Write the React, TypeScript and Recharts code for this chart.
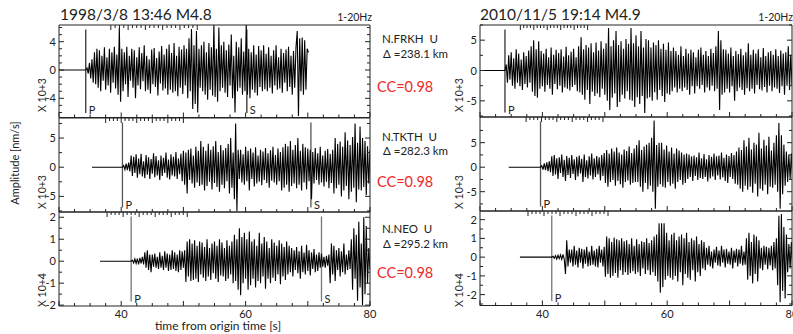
import React from 'react';
import { LineChart, Line, XAxis, YAxis, ReferenceLine } from 'recharts';

const STEP = 0.2;

const xTicks = [30, 32.5, 35, 37.5, 40, 42.5, 45, 47.5, 50, 52.5, 55, 57.5, 60, 62.5, 65, 67.5, 70, 72.5, 75, 77.5, 80];
const xMajor = [30, 40, 50, 60, 70, 80];
const xLabels = [40, 60, 80];

// 1998/3/8 event, x10^3 / x10^4 nm/s
const frkh1998 = [
  0.3, -0.5, 1, -1.2, 1.5, -1.8, 2.5, -2,
  3, -2.5, 2.8, -3, 2, -1.5, 3.2, -2.8, 1.8, -2.2, 3, -3.2, 2.5, -1.8, 3.3, -2.6, 2.2, -3.5,
  6, -4.5, 3,
  -3, 2.5, -2, 3.3, -3.8, 2, -1.5, 3, -2.5, 2.8, -4, 1.8, -2.2, 3.2, -2.7, 2.4, -1.6, 3.5, -3, 2, -2.8, 1.5, -3.3, 2.9, -2, 3.1, -2.4, 1.7, -3.6, 2.6, -1.9, 3.4, -2.9, 2.2, -2.6, 3,
  -3.5, 3.6, -2.8, 2.4, -3.2, 3.8, -3, 2, -3.7, 3.3, -2.5, 2.9, -3.4, 3.5, -2.2, 3,
  -4, 4.5, -3, 5.8, -5.5, 3.5, -4.8, 5.5, -6, 3, -2.5,
  3.5, -3, 4, -3.5, 2.5, -4.2, 3.8, -2.8, 3.2, -3.6,
  6.5, -3.8, 3, -4.5, 6, -3,
  3.5, -2.5, 4, -3.2, 2.8, -3.8, 3.6, -2.2, 5, -4, 2,
  -6, 4, -3, 3.2, -2.5, 4.5, -3.5, 2.6, -3, 6.5,
  -3.5, 3, -4, 2.5, -2.8, 3.5, -3.2, 2.2, -3.6, 3.4, -2.4, 2.8, -3, 3.5, -2.7, 2.3,
  -3, 3.2, -2.5, 2, -3.3, 2.8, -2.2, 3.5, -2.8, 1.8, -2.6, 3, -3.2, 2.4, -1.8, 2.9, -3, 3.3, -2.4, 2, -3.5, 2.7,
  -2.5, 3.2, 5.5, -6.5, 4.5, -3, 4.6, -3.5, 4.2, -2.8, 3, 2.5,
];

const tkth1998 = [
  0.3, -0.4, 0.6, -0.5, 0.8, -0.7,
  2, -1.5, 1.8, -1, 2.2, -1.8, 1.5, -1.2, 2.3, -1.6, 1, -1.9, 2.1, -1.3, 1.7, -2, 1.4, -1.1, 2.4, -1.7, 1.9, -1.4, 1.2, -2.2, 2, -1.5, 1.6, -1, 2.5, -1.8, 1.3, -2.1, 2.2, -1.4, 1.8, -1.6, 2.6, -2, 1.5, -1.2, 2.3, -2.4, 2.8,
  -3, 2.5, -4.5, 3, -2.2, 3.2, -2.8, 2, -3.5, 3.5, -2.6, 2.8, -3.2,
  4.5, -3, 3.5, -4, 2.8, -3.2, 4, -2.5, 3, -3.8, 3.6, -2.7, 4.5, -3.4, 2.6, -4.2, 3.8, -3, 2.9, -3.6, 3.3, -2.4, 4, -4.5,
  5, -3.5, 2.5, -5.5, 7.5, -7.5, 3, -2,
  3, -2.6, 2.2, -3, 3.5, -2.4, 2.8, -4, 3.2, -2, 2.5, -3.3, 3.4, -2.8, 2, -2.5, 3, -3.1, 2.7, -2.2, 3.3, -2.7, 2.4, -3.5, 2.9, -2.3, 3.5, -2.6, 2.1, -3, 3.2, -2.4, 2.6, -4, 3.4,
  -3.5, 4, -3, 3.6, -4.2, 4.5, -3.2, 3, -2.8, 3.8, -3.6, 5, -3, 2.8, -4, 4, -2.6, 3.4, -3.8, 3.2, -2.4,
  3, -5.5, 2.6, -2.8, 3.3, -2.2, 2.4, -3, 3.5, -2.6, 2, -3.3, 2.8, -2.5, 3.1, -3.6, 2.3, -2.7, 3,
  -4.5, 5, -3.6, 4, -3, 4.4, -5, 3.5, -4, 6, -3.2, 4.6, -5.5, 3.8, -4.2, 5.2, -3.5, 7.5, -6, 4.2, -3.8, 7, -4, 5, -3.4, 4.5, -4.8, 3.6, -2.8, 3,
];

const neo1998 = [
  0.05, -0.08, 0.1, -0.1, 0.12, -0.15, 0.15, -0.1, 0.2, -0.15,
  0.4, -0.3, 0.5, -0.4, 0.3, -0.5,
  0.3, -0.25, 0.35, -0.3, 0.2, -0.35, 0.4, -0.3, 0.25, -0.4, 0.45, -0.3, 0.35, -0.45, 0.3, -0.4, 0.5, -0.35, 0.4, -0.45, 0.3, -0.5, 0.5, -0.4, 0.45, -0.3, 0.5,
  -0.95, 0.9, -0.7, 1, -0.9, 0.8, -0.85, 0.95,
  -0.8, 0.7, -0.95, 0.9, -0.6, 0.85, -0.75, 0.65, -0.9, 1, -0.7, 0.6, -0.85, 0.8, -0.55, 0.9, -0.8, 0.7, -0.95, 1, -0.65, 0.85, -0.7, 0.6, -0.9, 0.95, -0.8, 0.7, -0.6, 0.9,
  -1, 1.2, -0.9, 1, -1.3, 1.5, -1.55, 1.1, -1, 1.3, -0.8, 1, -1.3, 1.35,
  -1.1, 0.9, -0.8, 1, -1.2, 0.7, -0.9, 1.3, -1, 0.8, -0.7, 1.1, -1.25, 0.9, -0.8, 0.6, -1, 1, -0.75, 0.85, -0.9, 0.7, -0.6, 0.95, -1.05, 0.8, -0.7, 0.65, -0.85, 0.9, -0.6, 0.7,
  -0.5, 0.6, -0.7, 0.5, -0.4, 0.65, -0.55, 0.45, -0.8, 0.7, -0.5, 0.4, -0.6, 0.75, -0.45, 0.5, -0.65, 0.4, -0.35, 0.55, -0.5, 0.3, -0.45, 0.4, -0.3, 0.35, -0.25,
  0.2, -0.3, 0.25, -0.2, 0.3, -1, 0.8, -0.6, 0.7, -0.9, 0.5, -0.4, 0.6, -0.7, 0.45, -0.5, 0.8, -0.6, 0.3, -0.4, 0.5, -0.35,
  1, -1.3, 1.5, -0.8, 1.2, -1.8, 1.8, -1.2, 0.8, -2, 2, -1.5, 1.6, -1, 0.6, -0.4, 0.5,
];

// 2010/11/5 event
const frkh2010 = [
  1, -2, 2.5, -1.5, 3, -2.5, 2, -3, 3.5, -2, 2.8, -2.6, 1.8, -3.2, 3, -2.2, 2.4, -2.8, 3.3, -2,
  4, -3.5, 5, -4.2, 3.5, -4.5, 4.8, -3,
  3.2, -2.6, 2.8, -3.5, 3.6, -2.4, 2.2, -3, 3.8, -4, 2.6, -2.2, 3.4, -3.1, 2.9, -2.5, 3.5, -3.6, 2.3, -2.8, 3.9, -3, 2.5, -3.3, 3.1, -2.7, 3.6, -2.4, 2.2, -3.4,
  4, -3.6, 5.5, -4, 3.5, -4.8, 4.2, -3.2, 3.8, -5.5, 4.5, -3.5, 3, -4.2, 4.6, -3.8, 3.3, -4.4, 4.8, -3, 3.6,
  -4, 4.5, -5, 7, -6.5, 4, -4.5, 5, -3.8, 6.5, -6, 4.2, -5.2, 4.8, -4, 3.6, -4.6, 5.2, -3.4, 4.4, -4.8,
  7, -5, 4.5, -6, 5.8, -4.4, 4, -5.5, 6.5, -4.2, 3.8, -7, 5.2, -4.6,
  5, -4.4, 3.8, -5, 4.6, -3.6, 4.2, -4.8, 5, -3.2, 3.6, -4.2, 4.4, -5.2, 3.4, -3.8, 4.6, -4, 3.2,
  -3.4, 3.8, -2.8, 3.2, -3.6, 2.6, -3, 4, -3.4, 2.4, -2.8, 3.6, -3.2, 2.8, -4, 3.4, -2.6, 3, -3.8, 2.2, -2.6, 3.4, -3, 3.8, -2.4, 2.6, -3.6, 3.2, -2.8, 2.4, -3.3, 3.6, -2.5, 2.9, -3.4,
  4, -3, 6.5, -6.5, 5, -4, 3.5, -3.6,
  3.4, -3, 2.8, -3.6, 3.8, -2.6, 2.4, -5, 3.2, -3.4, 2.7, -2.8, 3.6, -3.2, 2.5, -4, 3, -2.9, 4.5, -3.4, 2.6, -3, 3.4, -3.8, 2.8, -2.4, 3.5, -3.1, 2.2, -3.3, 3.7, -2.7, 2.4, -3.6, 3, -2.5, 3.2, -3.4, 2.6, -2.8, 3.5, -3, 2.4, -3.7, 3.3, -2.6, 2.8, -4, 3, -2.5, 4, -3.2, 2.6, -2.4, 2,
];

const tkth2010 = [
  0.3, -0.5, 0.8, -0.6, 1, -0.8, 1.2, -1,
  2.2, -1.8, 2.5, -1.5, 1.8, -2.4, 2, -1.2, 2.6, -2, 1.5, -2.8, 2.3, -1.6, 1.9, -2.2, 2.5, -1.4, 1.6, -2.6, 2.1, -1.9, 2.4, -1.3, 1.7, -3, 2.6, -2, 1.4, -2.3, 2.2, -1.7, 2.8, -2.5, 1.8, -2, 2.3, -1.5, 2, -2.7, 2.5, -1.8, 2.9,
  -3.2, 3.5, -4, 2.8, -3, 3.8, -2.6, 3.2, -3.8, 4, -2.8, 3, -3.5, 2.6, -4.2, 3.6, -3, 3.3, -2.7, 4.2, -3.6, 2.9, -3.2, 3.8, -3, 4.5,
  -3, 5.5, -4, 3.5, -5, 4.2, -3.2, 4.6, -4.5, 5, -3.8, 6, -5, 9.5, -8.5, 4.5, -4, 5, -3.5,
  5, -4, 3.6, -4.2, 4.4, -3, 3.2, -3.8, 4, -3.4, 2.8, -4.4, 3.8, -3, 3.4, -2.6, 3, -3.6, 2.6, -3.2, 2.8,
  -2.4, 2.6, -2, 2.2, -2.8, 2.4, -1.8, 2, -2.6, 3, -2.2, 1.8, -2.4, 2.7, -2, 1.6, -2.9, 2.5, -2.3, 2.1, -1.9, 2.8, -2.6, 2.2, -1.7, 2.4, -2.5, 3, -2.1, 1.9, -2.8, 2.6, -3.2, 2.3, -2, 2.9, -2.4, 2.5, -3.4, 3.2,
  -3.6, 4, -4.4, 3.5, -5, 5.5, -3.8, 4.2, -4.6, 6, -4, 3.6, -5.2, 5, -3.4, 4.6, -6, 7, -4.4, 3.8, -4.8, 5.6, -3.6, 4.4, -5.5, 6.2, -4, 3.4, -4.2, 5, -3.6, 6.5, -5, 9, -8.5, 6.5, -5.5, 4.6, -3.8, 3.2, -3, 2.6, -2.4, 2.8, -2,
];

const neo2010 = [
  0.05, -0.06, 0.08, -0.1, 0.1, -0.08, 0.12, -0.12, 0.15, -0.1,
  -0.9, 0.9, -0.5, 0.4, -0.3,
  0.4, -0.5, 0.6, -0.4, 0.35, -0.55, 0.5, -0.3, 0.45, -0.6, 0.4, -0.35, 0.55, -0.5, 0.3, -0.45, 0.6, -0.4, 0.35, -0.5, 0.45, -0.55, 0.6, -0.3, 0.4, -0.5, 0.55,
  -1.05, 1.1, -0.9, 1, -1.1, 0.8, -1, 1.05, -0.85, 0.95, -1.1, 0.9, -0.7, 1, -0.95, 0.85,
  -0.8, 0.9, -0.95, 0.7, -0.85, 1, -0.75, 0.6, -0.9, 0.95, -0.8, 0.7, -1, 0.85, -0.6, 0.8, -0.9, 1, -0.7, 0.75, -0.95, 0.9, -0.8, 1.1,
  -1, 1.2, -1.3, 1.8, -1.9, 1.8, -1.6, 1.8, -1.2, 1.3, -1, 0.9, -1.1, 1.2,
  -1.2, 1.3, -1, 0.9, -1.3, 1.1, -0.8, 1.2, -1.5, 1, -0.9, 1.3, -1.1, 0.8, -1.2, 1, -0.7, 0.9, -1.3, 1.1, -0.8, 0.7, -1, 0.9, -0.6, 0.8, -0.7,
  0.5, -0.4, 0.6, -0.5, 0.3, -0.6, 0.4, -0.3, 0.55, -0.45, 0.35, -0.5, 0.6, -0.3, 0.4, -0.55, 0.45, -0.35, 0.3, -0.4, 0.5, -0.6, 0.35, -0.3, 0.45, -0.5, 0.4, -0.35, 0.6, -0.45, 0.3, -0.4,
  1, -1.2, 1.3, -1, 0.8, -1.4, 1.2, -0.9, 1.1, -1.3, 0.9,
  -0.6, 0.5, -0.7, 0.6, -0.4, 0.55, -0.65, 0.5, -0.45, 0.6, -0.7, 0.8, -0.6, 1,
  -1.5, 2.2, -2.4, 2.3, -1.8, 1.6, -2.2, 1.2,
  -0.8, 0.7, -0.6, 0.8, -0.5, 0.6,
];

const FONT = 'Lato, "Noto Sans", sans-serif';

function buildTrace(flatStart: number, onset: number, values: number[]) {
  return [
    { t: flatStart, v: 0 },
    { t: onset, v: 0 },
    ...values.map((v, i) => ({ t: onset + (i + 1) * STEP, v })),
  ];
}

const near = (arr: number[], v: number) => arr.some((a) => Math.abs(a - v) < 1e-6);

function makeTick(side: string, majors: number[], labels: number[]) {
  return (props: any) => {
    const { x, y, payload } = props;
    const v = payload.value;
    const len = near(majors, v) ? 5 : 3;
    let line = null;
    let label = null;
    if (side === 'left') {
      line = <line x1={x} y1={y} x2={x + len} y2={y} stroke="#222" />;
      if (near(labels, v))
        label = (
          <text x={x - 3} y={y + 4} textAnchor="end" fontSize={11} fill="#222" fontFamily={FONT}>
            {v}
          </text>
        );
    } else if (side === 'right') {
      line = <line x1={x} y1={y} x2={x - len} y2={y} stroke="#222" />;
    } else if (side === 'top') {
      line = <line x1={x} y1={y} x2={x} y2={y + len} stroke="#222" />;
    } else {
      line = <line x1={x} y1={y} x2={x} y2={y - len} stroke="#222" />;
      if (near(labels, v))
        label = (
          <text x={x} y={y + 12} textAnchor="middle" fontSize={11} fill="#222" fontFamily={FONT}>
            {v}
          </text>
        );
    }
    return (
      <g>
        {line}
        {label}
      </g>
    );
  };
}

interface PanelProps {
  left: number;
  top: number;
  bottom: number;
  right: number;
  data: { t: number; v: number }[];
  yDomain: [number, number];
  yTicks: number[];
  yLabels: number[];
  showX: boolean;
  phases: { t: number; name: string }[];
  markerColor: string;
}

function Panel({ left, top, bottom, right, data, yDomain, yTicks, yLabels, showX, phases, markerColor }: PanelProps) {
  const yW = 30;
  const rW = showX ? 12 : 1;
  const plotW = right - left;
  const plotH = bottom - top;
  const bH = showX ? 20 : 1;
  const pxPerUnit = plotH / (yDomain[1] - yDomain[0]);
  const segTop = yDomain[1] - 4.5 / pxPerUnit;
  const segBot = yDomain[0] + 4.5 / pxPerUnit;
  return (
    <div style={{ position: 'absolute', left: left - yW, top: top - 1 }}>
      <LineChart width={yW + plotW + rW} height={1 + plotH + bH} data={data} margin={{ top: 0, right: 0, bottom: 0, left: 0 }}>
        <XAxis
          xAxisId="b"
          dataKey="t"
          type="number"
          domain={[30, 80]}
          allowDataOverflow
          ticks={xTicks}
          interval={0}
          height={bH}
          tickSize={0}
          tickMargin={0}
          stroke="#222"
          tick={makeTick('bottom', xMajor, showX ? xLabels : [])}
          tickLine={false}
        />
        <XAxis
          xAxisId="t"
          orientation="top"
          type="number"
          domain={[30, 80]}
          allowDataOverflow
          ticks={xTicks}
          interval={0}
          height={1}
          tickSize={0}
          tickMargin={0}
          stroke="#222"
          tick={makeTick('top', xMajor, [])}
          tickLine={false}
        />
        <YAxis
          yAxisId="l"
          type="number"
          domain={yDomain}
          allowDataOverflow
          ticks={yTicks}
          interval={0}
          width={yW}
          tickSize={0}
          tickMargin={0}
          stroke="#222"
          tick={makeTick('left', yLabels, yLabels)}
          tickLine={false}
        />
        <YAxis
          yAxisId="r"
          orientation="right"
          type="number"
          domain={yDomain}
          allowDataOverflow
          ticks={yTicks}
          interval={0}
          width={rW}
          tickSize={0}
          tickMargin={0}
          stroke="#222"
          tick={makeTick('right', yLabels, [])}
          tickLine={false}
        />
        {phases.map((ph) => (
          <ReferenceLine
            key={ph.name}
            xAxisId="b"
            yAxisId="l"
            segment={[
              { x: ph.t, y: segTop },
              { x: ph.t, y: segBot },
            ]}
            stroke={markerColor}
            strokeWidth={1.3}
            label={(p: any) => (
              <text
                x={p.viewBox.x + 3}
                y={p.viewBox.y + p.viewBox.height + 1}
                fontSize={11}
                fill="#222"
                fontFamily={FONT}
              >
                {ph.name}
              </text>
            )}
          />
        ))}
        <Line
          xAxisId="b"
          yAxisId="l"
          type="linear"
          dataKey="v"
          stroke="#000"
          strokeWidth={1.1}
          dot={false}
          isAnimationActive={false}
        />
      </LineChart>
    </div>
  );
}

const stations = [
  { name: 'N.FRKH\u00a0\u00a0U', dist: '238.1 km', cc: 'CC=0.98' },
  { name: 'N.TKTH\u00a0\u00a0U', dist: '282.3 km', cc: 'CC=0.98' },
  { name: 'N.NEO\u00a0\u00a0U', dist: '295.2 km', cc: 'CC=0.98' },
];

export default function App() {
  const lx = [59, 370];
  const rx = [479.5, 791.5];
  const txt = { fontFamily: FONT, fill: '#222' } as const;
  const stY = [
    [43, 58, 92],
    [141, 155, 187],
    [233, 248, 278],
  ];
  const scaleY = [95, 192, 290];
  return (
    <div style={{ position: 'absolute', left: 0, top: 0, width: 793, height: 334, background: '#fff', fontFamily: FONT, overflow: 'hidden' }}>
      <svg width={793} height={334} style={{ position: 'absolute', left: 0, top: 0 }}>
        <text x={60} y={20} fontSize={15.5} {...txt}>1998/3/8 13:46 M4.8</text>
        <text x={372} y={20.5} fontSize={10.5} textAnchor="end" {...txt}>1-20Hz</text>
        <text x={480} y={20} fontSize={15.5} {...txt}>2010/11/5 19:14 M4.9</text>
        <text x={793} y={20.5} fontSize={10.5} textAnchor="end" {...txt}>1-20Hz</text>
        {stations.map((s, i) => (
          <g key={s.name}>
            <text x={382} y={stY[i][0]} fontSize={11.5} {...txt}>{s.name}</text>
            <text x={383} y={stY[i][1]} fontSize={11.5} {...txt}>{'Δ =' + s.dist}</text>
            <text x={377} y={stY[i][2]} fontSize={14.5} fontFamily={FONT} fill="#ee2a2a">{s.cc}</text>
          </g>
        ))}
        {scaleY.map((y, i) => (
          <g key={i}>
            <text transform={`translate(46,${y}) rotate(-90)`} textAnchor="middle" fontSize={10.5} {...txt}>
              {i === 2 ? 'X 10+4' : 'X 10+3'}
            </text>
            <text transform={`translate(463,${y}) rotate(-90)`} textAnchor="middle" fontSize={10.5} {...txt}>
              {i === 2 ? 'X 10+4' : 'X 10+3'}
            </text>
          </g>
        ))}
        <text transform="translate(19,163) rotate(-90)" textAnchor="middle" fontSize={11} {...txt}>Amplitude [nm/s]</text>
        <text x={218} y={330} textAnchor="middle" fontSize={12} {...txt}>time from origin time [s]</text>
      </svg>

      <Panel left={lx[0]} right={lx[1]} top={25} bottom={117.5} data={buildTrace(30, 34.3, frkh1998)}
        yDomain={[-6.71, 6.36]} yTicks={[-6, -5, -4, -3, -2, -1, 0, 1, 2, 3, 4, 5, 6]} yLabels={[-4, 0, 4]}
        showX={false} phases={[{ t: 34.3, name: 'P' }, { t: 60.2, name: 'S' }]} markerColor="#333" />
      <Panel left={lx[0]} right={lx[1]} top={117.5} bottom={211.5} data={buildTrace(35.3, 40.2, tkth1998)}
        yDomain={[-7.68, 8.44]} yTicks={[-7.5, -5, -2.5, 0, 2.5, 5, 7.5]} yLabels={[-5, 0, 5]}
        showX={false} phases={[{ t: 40.2, name: 'P' }, { t: 70.5, name: 'S' }]} markerColor="#555" />
      <Panel left={lx[0]} right={lx[1]} top={211.5} bottom={305.5} data={buildTrace(36.6, 41.6, neo1998)}
        yDomain={[-2.04, 2.24]} yTicks={[-2, -1.5, -1, -0.5, 0, 0.5, 1, 1.5, 2]} yLabels={[-2, -1, 0, 1, 2]}
        showX={true} phases={[{ t: 41.6, name: 'P' }, { t: 72.2, name: 'S' }]} markerColor="#777" />

      <Panel left={rx[0]} right={rx[1]} top={24.5} bottom={116.5} data={buildTrace(30, 34.0, frkh2010)}
        yDomain={[-7.66, 7.5]} yTicks={[-7.5, -5, -2.5, 0, 2.5, 5, 7.5]} yLabels={[-5, 0, 5]}
        showX={false} phases={[{ t: 34.0, name: 'P' }]} markerColor="#333" />
      <Panel left={rx[0]} right={rx[1]} top={116.5} bottom={210.5} data={buildTrace(34.6, 39.7, tkth2010)}
        yDomain={[-8.94, 10.24]} yTicks={[-7.5, -5, -2.5, 0, 2.5, 5, 7.5]} yLabels={[-5, 0, 5]}
        showX={false} phases={[{ t: 39.7, name: 'P' }]} markerColor="#555" />
      <Panel left={rx[0]} right={rx[1]} top={210.5} bottom={305} data={buildTrace(36.4, 41.5, neo2010)}
        yDomain={[-2.58, 2.46]} yTicks={[-2.5, -2, -1.5, -1, -0.5, 0, 0.5, 1, 1.5, 2]} yLabels={[-2, -1, 0, 1, 2]}
        showX={true} phases={[{ t: 41.5, name: 'P' }]} markerColor="#777" />
    </div>
  );
}
